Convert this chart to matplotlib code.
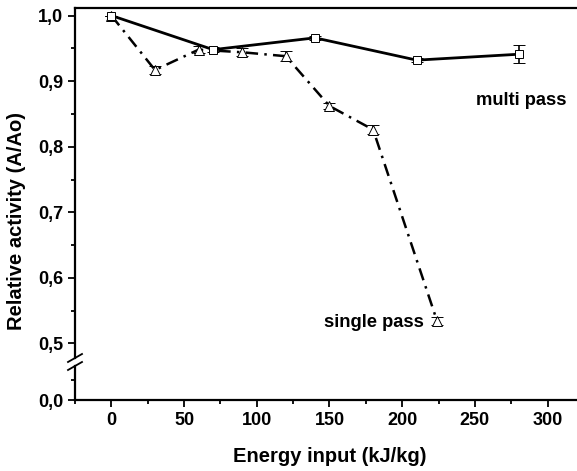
import matplotlib
matplotlib.use('Agg')
import matplotlib.pyplot as plt
from matplotlib.ticker import MultipleLocator, FuncFormatter

plt.rcParams['font.family'] = ['Liberation Sans', 'DejaVu Sans']
plt.rcParams['font.weight'] = 'bold'

"""data read off the picture"""
single_x = [0, 30, 60, 90, 120, 150, 180, 224]
single_y = [1.0, 0.917, 0.948, 0.944, 0.938, 0.862, 0.826, 0.534]
single_err = [0.0, 0.006, 0.005, 0.006, 0.008, 0.004, 0.007, 0.006]

multi_x = [0, 70, 140, 210, 280]
multi_y = [1.0, 0.948, 0.966, 0.932, 0.941]
multi_err = [0.0, 0.004, 0.003, 0.003, 0.014]

W, H = 577, 471
fig = plt.figure(figsize=(W / 100, H / 100), dpi=100)

left = 75 / W
right = 584 / W
top_cut, low_cut = 358, 366   # pixel rows where the axis is broken
ax = fig.add_axes([left, (H - top_cut) / H, right - left, (top_cut - 8) / H])   # 0.5 - 1.0
axb = fig.add_axes([left, (H - 400) / H, right - left, (400 - low_cut) / H])   # around 0

comma = FuncFormatter(lambda v, p: ('%.1f' % v).replace('.', ','))

for a in (ax, axb):
    a.errorbar(single_x, single_y, yerr=single_err, color='black', lw=1.8,
               linestyle=(0, (5, 2.5, 1, 2.5)), marker='^', ms=7.5, mfc='white',
               mec='black', mew=0.7, ecolor='black', elinewidth=1.2, capsize=4,
               capthick=1.5, zorder=3)
    a.errorbar(multi_x, multi_y, yerr=multi_err, color='black', lw=2.0,
               linestyle='-', marker='s', ms=5.5, mfc='white', mec='black',
               mew=0.7, ecolor='black', elinewidth=1.2, capsize=4, capthick=1.5,
               zorder=4)
    a.set_xlim(-25, 325)
    a.spines['right'].set_visible(False)
    for s in a.spines.values():
        s.set_linewidth(1.6)
    a.tick_params(which='both', direction='out', width=1.3, labelsize=13)
    a.tick_params(which='major', length=5)
    a.tick_params(which='minor', length=3)
    a.xaxis.set_major_locator(MultipleLocator(50))
    a.xaxis.set_minor_locator(MultipleLocator(25))
    a.yaxis.set_major_formatter(comma)

ax.set_ylim(0.5 - (top_cut - 343.5) / 655, 1.0115)
ax.yaxis.set_major_locator(MultipleLocator(0.1))
ax.yaxis.set_minor_locator(MultipleLocator(0.05))
ax.spines['bottom'].set_visible(False)
ax.tick_params(axis='x', which='both', bottom=False, labelbottom=False)

axb.set_ylim(0, 0.05 + (380 - low_cut) / 20 * 0.05)
axb.set_yticks([0.0])
axb.set_yticks([0.05], minor=True)
axb.spines['top'].set_visible(False)

# break marks on the y axis
for yc in (top_cut, low_cut):
    fig.add_artist(plt.Line2D([(75 - 7) / W, (75 + 7) / W],
                              [(H - yc - 4) / H, (H - yc + 4) / H],
                              transform=fig.transFigure, color='black', lw=1.3))

ax.text(251, 0.871, 'multi pass', fontsize=13.2, fontweight='bold', va='center')
ax.text(146.5, 0.532, 'single pass', fontsize=13.2, fontweight='bold', va='center')

fig.text(330 / W, 1 - 456 / H, 'Energy input (kJ/kg)', fontsize=14.5,
         fontweight='bold', ha='center', va='center')
fig.text(17 / W, 1 - 221 / H, 'Relative activity (A/Ao)', fontsize=14.5,
         fontweight='bold', ha='center', va='center', rotation=90)

fig.savefig('out.png', dpi=100)
